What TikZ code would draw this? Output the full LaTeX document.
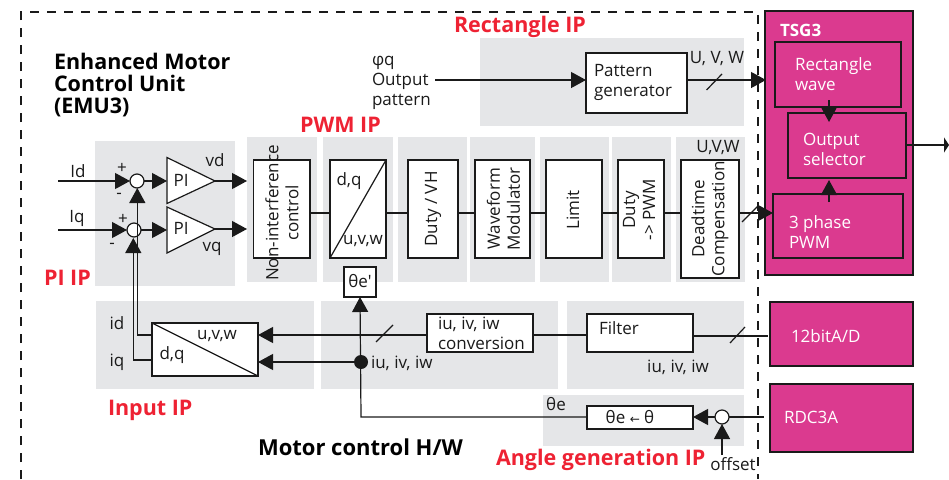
\documentclass[tikz,border=0pt]{standalone}
\usepackage{fontspec}
\setmainfont{Open Sans}
\newfontfamily\symfont{DejaVu Sans}
\usetikzlibrary{arrows.meta}
\definecolor{pgray}{HTML}{E5E6E8}
\definecolor{pmag}{HTML}{DB3A8F}
\definecolor{pred}{HTML}{EE2233}
\definecolor{pink}{HTML}{1A1A1A}
\newcommand{\boxat}[6][]{\node[#2,#1,minimum width=#5-#3,minimum height=#6-#4] at ({(#3+#5)/2},{(#4+#6)/2})}
\tikzset{
 x=1pt,y=-1pt,
 panel/.style={fill=pgray,draw=none,inner sep=0,outer sep=0},
 wbox/.style={fill=white,draw=pink,line width=1.2pt,inner sep=0,outer sep=0},
 mbox/.style={fill=pmag,draw=pink,line width=1.2pt,inner sep=0,outer sep=0},
 line/.style={draw=pink,line width=1.2pt},
 arr/.style={line,-{Triangle[length=15pt,width=16pt]}},
 lab/.style={inner sep=0,outer sep=0,font=\fontsize{17}{20}\selectfont,text=pink},
 wlab/.style={lab,text=white,anchor=west,align=left},
 rlab/.style={lab,rotate=90,align=center},
 tit/.style={inner sep=0,outer sep=0,font=\fontsize{21.5}{22}\selectfont\bfseries,text=black},
 redt/.style={tit,text=pred},
 junc/.style={circle,fill=white,draw=pink,line width=1.2pt,minimum size=14pt,inner sep=0,outer sep=0},
 dot/.style={circle,fill=pink,minimum size=14pt,inner sep=0,outer sep=0},
 dashb/.style={draw=pink,line width=1.1pt,dash pattern=on 9pt off 8pt},
}
\begin{document}
\begin{tikzpicture}
\useasboundingbox (0,0) rectangle (949,479);
% panels
\boxat{panel}{95}{141}{235}{286} (pPI) {};
\boxat{panel}{247}{137}{317}{282} (p1) {};
\boxat{panel}{323}{137}{393}{282} (p2) {};
\boxat{panel}{398}{137}{467}{282} (p3) {};
\boxat{panel}{470}{137}{535}{282} (p4) {};
\boxat{panel}{540}{137}{609}{282} (p5) {};
\boxat{panel}{612}{137}{671}{282} (p6) {};
\boxat{panel}{676}{137}{745}{282} (p7) {};
\boxat{panel}{480}{38}{744}{126} (pR) {};
\boxat{panel}{96}{301}{314}{389} (pI) {};
\boxat{panel}{321}{301}{558}{389} (pM) {};
\boxat{panel}{567}{301}{744}{389} (pF) {};
\boxat{panel}{543}{395}{744}{446} (pA) {};
% magenta blocks
\boxat{mbox}{765}{11}{913}{275} (tsg) {};
\boxat{mbox}{775}{42}{901}{107} (rect) {};
\boxat{mbox}{788}{113}{906}{178} (sel) {};
\boxat{mbox}{773}{194}{903}{258} (ph) {};
\boxat{mbox}{770}{302}{913}{366} (ad) {};
\boxat{mbox}{770}{384}{913}{452} (rdc) {};
% dashed border
\coordinate (d1) at (21,479); \coordinate (d2) at (21,12); \coordinate (d3) at (758,12); \coordinate (d4) at (758,479);
\draw[dashb] (d1) -- (d2) -- (d3) -- (d4);
% white boxes
\boxat{wbox}{253.5}{160}{310}{258} (ni) {};
\boxat{wbox}{330}{160}{386}{258} (dq) {};
\boxat{wbox}{408}{160}{458}{258} (dv) {};
\boxat{wbox}{475}{160}{530}{258} (wm) {};
\boxat{wbox}{546}{160}{602}{258} (lim) {};
\boxat{wbox}{618}{160}{664}{258} (dp) {};
\boxat{wbox}{681}{160}{739}{278} (dc) {};
\boxat{wbox}{586}{53}{687}{113} (pg) {};
\boxat{wbox}{344}{267}{376}{297} (te) {};
\boxat{wbox}{427}{314}{533}{352} (cv) {};
\boxat{wbox}{587}{314}{693}{352} (fl) {};
\boxat{wbox}{587}{406}{693}{429} (tt) {};
\boxat{wbox}{152}{323}{258}{376} (uv) {};
\draw[line] (dq.north east) -- (dq.south west);
\draw[line] (uv.north west) -- (uv.south east);
% PI triangles
\coordinate (t1a) at (167,157.5); \coordinate (t1b) at (167,203.5); \coordinate (t1c) at (215,181);
\coordinate (t2a) at (167,207); \coordinate (t2b) at (167,253); \coordinate (t2c) at (215,229);
\draw[line,fill=white] (t1a) -- (t1c) -- (t1b) -- cycle;
\draw[line,fill=white] (t2a) -- (t2c) -- (t2b) -- cycle;
% junctions
\node[junc] (j1) at (137,181) {};
\node[junc] (j2) at (134,230) {};
\node[junc] (j3) at (722,417) {};
\node[dot] (jd) at (361,362) {};
% free ends
\coordinate (id0) at (58,181); \coordinate (iq0) at (58,230);
\coordinate (o1) at (247,181); \coordinate (o2) at (247,229);
\coordinate (pi1) at (167,181); \coordinate (pi2) at (167,230);
% PI connectors
\draw[arr] (id0) -- (j1.west);
\draw[arr] (iq0) -- (j2.west);
\draw[arr] (j1.east) -- (pi1);
\draw[arr] (j2.east) -- (pi2);
\draw[arr] (t1c) -- (o1);
\draw[arr] (t2c) -- (o2);
\coordinate (v1) at (137.3,335); \coordinate (v2) at (133.3,360);
\coordinate (u1) at (152,335); \coordinate (u2) at (152,360);
\draw[arr] (u1) -- (v1) -- (137.3,188);
\draw[arr] (u2) -- (v2) -- (133.3,238);
% PWM chain
\coordinate (cy) at (0,213);
\draw[line] (ni.east |- cy) -- (dq.west |- cy);
\draw[line] (dq.east |- cy) -- (dv.west |- cy);
\draw[line] (dv.east |- cy) -- (wm.west |- cy);
\draw[line] (wm.east |- cy) -- (lim.west |- cy);
\draw[line] (lim.east |- cy) -- (dp.west |- cy);
\draw[line] (dp.east |- cy) -- (dc.west |- cy);
\coordinate (dco) at (739,213);
\coordinate (pho) at (773,213);
\draw[arr] (dco) -- (pho);
\coordinate (s1a) at (742,222); \coordinate (s1b) at (758,206);
\draw[line] (s1a) -- (s1b);
% Rectangle
\coordinate (rin) at (435,80); \coordinate (rpg) at (586,80);
\draw[arr] (rin) -- (rpg);
\coordinate (pgo) at (687,80); \coordinate (rt) at (766,80);
\draw[arr] (pgo) -- (rt);
\coordinate (s2a) at (706.5,90); \coordinate (s2b) at (722,74);
\draw[line] (s2a) -- (s2b);
% TSG3 inner
\coordinate (ra) at (829,100); \coordinate (rb) at (829,122);
\draw[arr] (ra) -- (rb);
\coordinate (pa) at (829,202); \coordinate (pb) at (829,180);
\draw[arr] (pa) -- (pb);
\coordinate (out) at (949,145);
\draw[line,-{Triangle[length=5pt,width=15pt]}] (sel.east |- out) -- (out);
% lower
\coordinate (adl) at (768,336); \coordinate (flr) at (693,336);
\draw[line] (flr) -- (adl);
\coordinate (s3a) at (730,343); \coordinate (s3b) at (745,327);
\draw[line] (s3a) -- (s3b);
\coordinate (ly) at (0,335);
\draw[line] (fl.west |- ly) -- (cv.east |- ly);
\coordinate (uvt) at (258,335); \coordinate (uvb) at (258,362);
\draw[arr] (cv.west |- ly) -- (uvt);
\coordinate (s4a) at (376,342); \coordinate (s4b) at (393,325);
\draw[line] (s4a) -- (s4b);
\draw[arr] (jd.center) -- (uvb);
\coordinate (bl) at (361,417);
\draw[arr] (tt.west |- bl) -- (bl) -- (te.south);
\draw[arr] (j3.west) -- (tt.east |- j3);
\coordinate (rr) at (764,417);
\draw[line] (j3.east) -- (rr);
\coordinate (offs) at (722,455);
\draw[arr] (offs) -- (j3.south);
% labels
\node[tit,anchor=north west,align=left] (ttl) at (54,53) {Enhanced Motor\\Control Unit\\(EMU3)};
\node[tit,anchor=west,font=\fontsize{22}{22}\selectfont\bfseries] (lmc) at (258,447) {Motor control H/W};
\node[redt,anchor=west] (l1) at (454,27) {Rectangle IP};
\node[redt,anchor=west] (l2) at (300,125) {PWM IP};
\node[redt,anchor=west] (l3) at (44,278) {PI IP};
\node[redt,anchor=west] (l4) at (108,410) {Input IP};
\node[redt,anchor=west] (l5) at (496,460) {Angle generation IP};
\node[lab] (a1) at (78,171) {Id};
\node[lab] (a2) at (77,218) {Iq};
\node[lab] (a3) at (122,168) {+};
\node[lab] (a4) at (119,196) {-};
\node[lab] (a5) at (123,219) {+};
\node[lab] (a6) at (112,246) {-};
\node[lab] (a7) at (181,180) {PI};
\node[lab] (a8) at (181,228) {PI};
\node[lab] (a9) at (215,160) {vd};
\node[lab] (a10) at (212,249) {vq};
\node[rlab] (b1) at (282,213) {Non-interference\\control};
\node[lab] (b2) at (349,181) {d,q};
\node[lab] (b3) at (363,241) {u,v,w};
\node[rlab] (b4) at (433,209) {Duty / VH};
\node[rlab] (b5) at (503.5,209) {Waveform\\Modulator};
\node[rlab] (b6) at (573,210) {Limit};
\node[rlab] (b7) at (639,210) {Duty\\-> PWM};
\node[rlab] (b8) at (710,219) {Deadtime\\Compensation};
\node[lab] (b9) at (718,148) {U,V,W};
\node[lab] (c1) at (717,59) {U, V, W};
\node[lab,anchor=west,align=left] (c2) at (594,82) {Pattern\\generator};
\node[lab,anchor=west,align=left] (c3) at (372,83) {φq\\Output\\pattern};
\node[wlab,font=\fontsize{17}{17}\selectfont\bfseries] (m0) at (780,30) {TSG3};
\node[wlab] (m1) at (795,74) {Rectangle\\wave};
\node[wlab] (m2) at (803,149) {Output\\selector};
\node[wlab] (m3) at (789,232) {3 phase\\PWM};
\node[wlab] (m4) at (791,336) {12bitA/D};
\node[wlab] (m5) at (784,417) {RDC3A};
\node[lab] (d5) at (360,281) {θe′};
\node[lab] (d6) at (117,323) {id};
\node[lab] (d7) at (117,362) {iq};
\node[lab] (d8) at (172,355) {d,q};
\node[lab] (d9) at (217,336) {u,v,w};
\node[lab,anchor=west] (d10) at (371,363) {iu, iv, iw};
\node[lab,anchor=west,align=left] (d11) at (438,333) {iu, iv, iw\\conversion};
\node[lab,anchor=west] (d12) at (599,328) {Filter};
\node[lab] (d13) at (678,367) {iu, iv, iw};
\node[lab] (d14) at (556,404) {θe};
\node[lab] (d15) at (630,417) {θe {\symfont\fontsize{12}{12}\selectfont ←} θ};
\node[lab] (d16) at (733,464) {offset};
\end{tikzpicture}
\end{document}
